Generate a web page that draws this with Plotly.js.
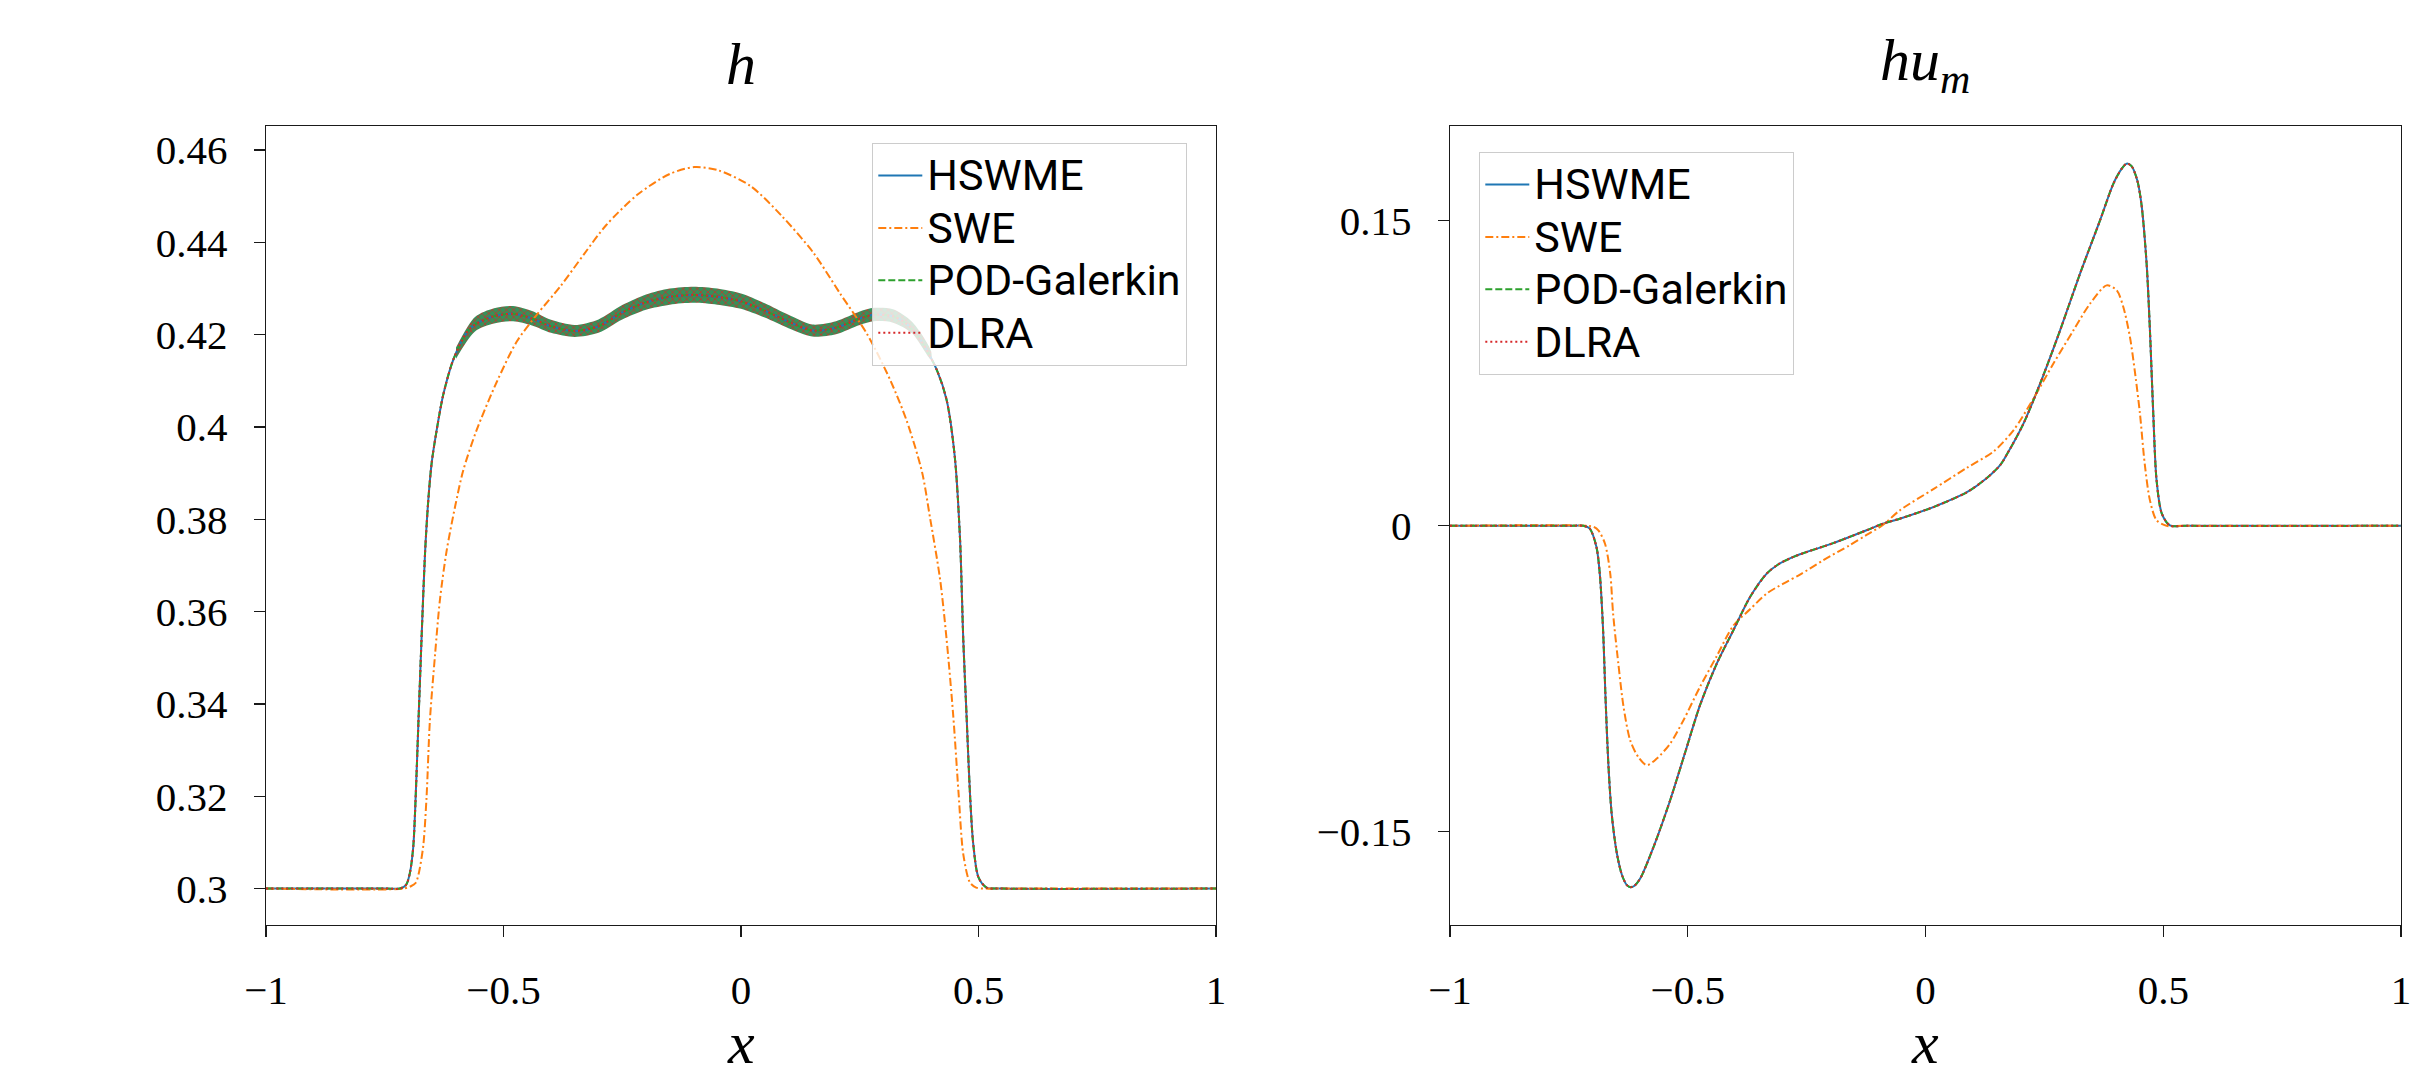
<!DOCTYPE html>
<html>
<head>
<meta charset="utf-8">
<script src="https://cdn.plot.ly/plotly-3.0.1.min.js"></script>
<style>html,body{margin:0;padding:0;background:#fff;}#chart{width:2411px;height:1070px;}</style>
</head>
<body>
<div id="chart"></div>
<script>
// ---------- data ----------
const seriesNames = ['HSWME', 'SWE', 'POD-Galerkin', 'DLRA'];

// left panel: h(x)
const hX = [-1, -0.75, -0.718, -0.705, -0.697, -0.690, -0.686, -0.679, -0.672, -0.665,
  -0.658, -0.651, -0.641, -0.627, -0.606, -0.578, -0.56, -0.52, -0.48, -0.44,
  -0.40, -0.35, -0.30, -0.25, -0.20, -0.15, -0.10, -0.05, 0.00, 0.05,
  0.10, 0.15, 0.20, 0.25, 0.28, 0.32, 0.349, 0.38, 0.412, 0.433,
  0.450, 0.461, 0.468, 0.475, 0.482, 0.489, 0.500, 0.517, 0.55, 1];
const hswmeH = [0.3, 0.3, 0.3, 0.3008, 0.3034, 0.309, 0.317, 0.3363, 0.3556, 0.373,
  0.3846, 0.3924, 0.3991, 0.4069, 0.4145, 0.4204, 0.4222, 0.4240, 0.4245, 0.4235,
  0.4218, 0.4208, 0.4218, 0.4248, 0.4270, 0.4282, 0.4286, 0.4282, 0.4272, 0.4252,
  0.4228, 0.4209, 0.4215, 0.4235, 0.4243, 0.4240, 0.4223, 0.4185, 0.4124, 0.4058,
  0.3936, 0.3760, 0.3538, 0.3372, 0.3207, 0.3096, 0.3024, 0.3002, 0.3, 0.3];
// POD-Galerkin and DLRA coincide with HSWME in the picture
const podH = hswmeH;
const dlraH = hswmeH;

const sweX = [-1, -0.71, -0.695, -0.685, -0.679, -0.669, -0.662, -0.655, -0.644, -0.634,
  -0.620, -0.602, -0.585, -0.557, -0.514, -0.472, -0.430, -0.380, -0.330, -0.284,
  -0.217, -0.150, -0.098, -0.048, 0.020, 0.085, 0.152, 0.208, 0.265, 0.314,
  0.349, 0.381, 0.398, 0.419, 0.433, 0.447, 0.458, 0.468, 0.482, 0.495, 0.51, 0.55, 1];
const sweH = [0.3, 0.3, 0.3005, 0.3012, 0.3030, 0.3092, 0.3198, 0.3363, 0.3508, 0.3624,
  0.3730, 0.3827, 0.3905, 0.3992, 0.4098, 0.4185, 0.4243, 0.4305, 0.4375, 0.4437,
  0.4504, 0.4548, 0.4563, 0.4556, 0.4522, 0.4458, 0.4378, 0.4290, 0.4202, 0.4102,
  0.4013, 0.3903, 0.3803, 0.3671, 0.3538, 0.3372, 0.3207, 0.3074, 0.3013, 0.3002, 0.3, 0.3, 0.3];

// oscillation band of the reduced/full models on the plateau
const bandX = [-0.60, -0.56, -0.52, -0.48, -0.44, -0.40, -0.35, -0.30, -0.25, -0.20, -0.15, -0.10,
  -0.05, 0.00, 0.05, 0.10, 0.15, 0.20, 0.25, 0.28, 0.32, 0.36, 0.40];
const bandUpper = [0.4172, 0.4238, 0.4257, 0.4262, 0.4251, 0.4232, 0.4221, 0.4233, 0.4264, 0.4287, 0.4300, 0.4304,
  0.4300, 0.4289, 0.4268, 0.4243, 0.4222, 0.4229, 0.4250, 0.4258, 0.4255, 0.4228, 0.4165];
const bandLower = [0.4148, 0.4207, 0.4224, 0.4229, 0.4220, 0.4204, 0.4195, 0.4204, 0.4233, 0.4254, 0.4265, 0.4269,
  0.4265, 0.4256, 0.4237, 0.4214, 0.4196, 0.4201, 0.4221, 0.4229, 0.4226, 0.4203, 0.4146];

// right panel: h u_m(x)
const huX = [-1, -0.75, -0.72, -0.706, -0.692, -0.685, -0.678, -0.673, -0.667, -0.660, -0.649,
  -0.638, -0.628, -0.620, -0.612, -0.600, -0.572, -0.537, -0.505, -0.474, -0.439, -0.404, -0.369,
  -0.334, -0.310, -0.285, -0.264, -0.194, -0.124, -0.089, -0.054, 0.0165, 0.087, 0.129,
  0.157, 0.171, 0.206, 0.241, 0.283, 0.325, 0.367, 0.395, 0.412, 0.423, 0.433, 0.445,
  0.454, 0.465, 0.472, 0.479, 0.486, 0.497, 0.514, 0.55, 1];
const hswmeHu = [0, 0, 0, -0.0014, -0.0104, -0.0235, -0.0513, -0.0841, -0.1168, -0.1414, -0.1610,
  -0.1718, -0.1765, -0.1775, -0.1768, -0.1733, -0.1578, -0.1348, -0.1110, -0.0880, -0.0677, -0.0513, -0.0350,
  -0.0235, -0.0190, -0.0160, -0.0140, -0.0085, -0.0022, 0.0011, 0.0035, 0.0092, 0.0165, 0.0235,
  0.0298, 0.0350, 0.0502, 0.0698, 0.0960, 0.1239, 0.1500, 0.1680, 0.1752, 0.1779, 0.1768, 0.1700,
  0.1583, 0.1288, 0.0960, 0.0551, 0.0223, 0.0060, 0.0002, 0, 0];
const podHu = hswmeHu;
const dlraHu = hswmeHu;

const sweHuX = [-1, -0.71, -0.698, -0.688, -0.674, -0.663, -0.657, -0.646, -0.635, -0.621,
  -0.604, -0.586, -0.565, -0.537, -0.509, -0.474, -0.439, -0.404, -0.369, -0.334,
  -0.300, -0.264, -0.215, -0.159, -0.124, -0.089, -0.054, 0.0165, 0.087, 0.143,
  0.185, 0.227, 0.269, 0.311, 0.346, 0.381, 0.402, 0.416, 0.430, 0.440,
  0.451, 0.461, 0.472, 0.486, 0.507, 0.54, 1];
const sweHu = [0, 0, -0.0005, -0.0022, -0.0088, -0.0235, -0.0431, -0.0677, -0.0890, -0.1054,
  -0.1136, -0.1176, -0.1143, -0.1070, -0.0955, -0.0790, -0.0640, -0.0490, -0.0410, -0.0333,
  -0.0285, -0.0240, -0.0169, -0.0095, -0.0045, 0.0005, 0.0076, 0.0180, 0.0285, 0.0365,
  0.0469, 0.0625, 0.0797, 0.0960, 0.1091, 0.1181, 0.1157, 0.1075, 0.0927, 0.0764,
  0.0551, 0.0305, 0.0125, 0.0027, 0, 0, 0];

// ticks
const xTickVals = [-1, -0.5, 0, 0.5, 1];
const xTickText = ['\u22121', '\u22120.5', '0', '0.5', '1'];
const hTickVals = [0.3, 0.32, 0.34, 0.36, 0.38, 0.4, 0.42, 0.44, 0.46];
const hTickText = ['0.3', '0.32', '0.34', '0.36', '0.38', '0.4', '0.42', '0.44', '0.46'];
const huTickVals = [-0.15, 0, 0.15];
const huTickText = ['\u22120.15', '0', '0.15'];

// ---------- styling ----------
const C = {blue: '#1f77b4', orange: '#ff7f0e', green: '#2ca02c', red: '#d62728'};
const lw = 2;
const styles = [
  {color: C.blue, width: lw, dash: 'solid'},
  {color: C.orange, width: lw, dash: '8px,3px,2px,3px'},
  {color: C.green, width: lw, dash: '7px,3px'},
  {color: C.red, width: lw, dash: '2px,3px'}
];
const serif = 'Liberation Serif, Times New Roman, serif';
const sans = 'Roboto, Lato, sans-serif';

function line(x, y, i, xa, ya, leg) {
  return {
    type: 'scatter', mode: 'lines', x: x, y: y,
    name: '<span style="font-size:43px">' + seriesNames[i] + '</span>',
    xaxis: xa, yaxis: ya, legend: leg,
    line: Object.assign({shape: 'spline', smoothing: 0.8}, styles[i]),
    hoverinfo: 'skip'
  };
}

const band = {
  type: 'scatter', mode: 'lines',
  x: bandX.concat(bandX.slice().reverse()),
  y: bandUpper.concat(bandLower.slice().reverse()),
  fill: 'toself', line: {width: 0, color: C.green, shape: 'spline', smoothing: 0.8},
  fillcolor: 'rgba(44,150,60,0.9)',
  fillpattern: {shape: 'x', fgcolor: C.red, bgcolor: 'rgba(38,135,75,0.92)', size: 5, solidity: 0.25},
  showlegend: false, hoverinfo: 'skip', xaxis: 'x', yaxis: 'y'
};

const data = [
  band,
  line(hX, hswmeH, 0, 'x', 'y', 'legend'),
  line(sweX, sweH, 1, 'x', 'y', 'legend'),
  line(hX, podH, 2, 'x', 'y', 'legend'),
  line(hX, dlraH, 3, 'x', 'y', 'legend'),
  line(huX, hswmeHu, 0, 'x2', 'y2', 'legend2'),
  line(sweHuX, sweHu, 1, 'x2', 'y2', 'legend2'),
  line(huX, podHu, 2, 'x2', 'y2', 'legend2'),
  line(huX, dlraHu, 3, 'x2', 'y2', 'legend2')
];

const W = 2411, H = 1070;
function axisBase() {
  return {
    showline: true, mirror: true, linecolor: '#1a1a1a', linewidth: 1.2,
    ticks: 'outside', ticklen: 11, tickwidth: 1.2, tickcolor: '#1a1a1a',
    showgrid: false, zeroline: false,
    tickfont: {family: serif, size: 41, color: '#000'},
    ticklabelstandoff: 18, ticklabeloverflow: 'allow'
  };
}
const yDom = [1 - 925 / H, 1 - 126 / H];
const legendStyle = {
  xanchor: 'left', yanchor: 'top',
  bgcolor: 'rgba(255,255,255,0.8)', bordercolor: '#cccccc', borderwidth: 1.3,
  font: {family: sans, size: 38, color: '#000'}, tracegroupgap: 0,
  itemwidth: 44
};
const mathFont = {family: serif, size: 60, color: '#000'};

const layout = {
  width: W, height: H,
  margin: {l: 0, r: 0, t: 0, b: 0},
  paper_bgcolor: '#fff', plot_bgcolor: '#fff',
  showlegend: true,
  xaxis: Object.assign(axisBase(), {
    domain: [266 / W, 1216 / W], range: [-1, 1], anchor: 'y',
    tickvals: xTickVals, ticktext: xTickText
  }),
  yaxis: Object.assign(axisBase(), {
    domain: yDom, range: [0.2921, 0.4652], anchor: 'x',
    tickvals: hTickVals, ticktext: hTickText
  }),
  xaxis2: Object.assign(axisBase(), {
    domain: [1450 / W, 2401 / W], range: [-1, 1], anchor: 'y2',
    tickvals: xTickVals, ticktext: xTickText
  }),
  yaxis2: Object.assign(axisBase(), {
    domain: yDom, range: [-0.1961, 0.1964], anchor: 'x2',
    tickvals: huTickVals, ticktext: huTickText
  }),
  legend: Object.assign({x: 872 / W, y: 1 - 143 / H}, legendStyle),
  legend2: Object.assign({x: 1479 / W, y: 1 - 152 / H}, legendStyle),
  annotations: [
    {text: '<i>h</i>', xref: 'paper', yref: 'paper', x: 741 / W, y: 1 - 64 / H,
     xanchor: 'center', yanchor: 'middle', showarrow: false, font: mathFont},
    {text: '<i>hu</i><sub><i>m</i></sub>', xref: 'paper', yref: 'paper', x: 1925 / W, y: 1 - 64 / H,
     xanchor: 'center', yanchor: 'middle', showarrow: false, font: mathFont},
    {text: '<i>x</i>', xref: 'paper', yref: 'paper', x: 741 / W, y: 1 - 1008 / H,
     xanchor: 'center', yanchor: 'top', showarrow: false, font: mathFont},
    {text: '<i>x</i>', xref: 'paper', yref: 'paper', x: 1925 / W, y: 1 - 1008 / H,
     xanchor: 'center', yanchor: 'top', showarrow: false, font: mathFont}
  ]
};

Plotly.newPlot('chart', data, layout, {displayModeBar: false, staticPlot: true});
</script>
</body>
</html>
